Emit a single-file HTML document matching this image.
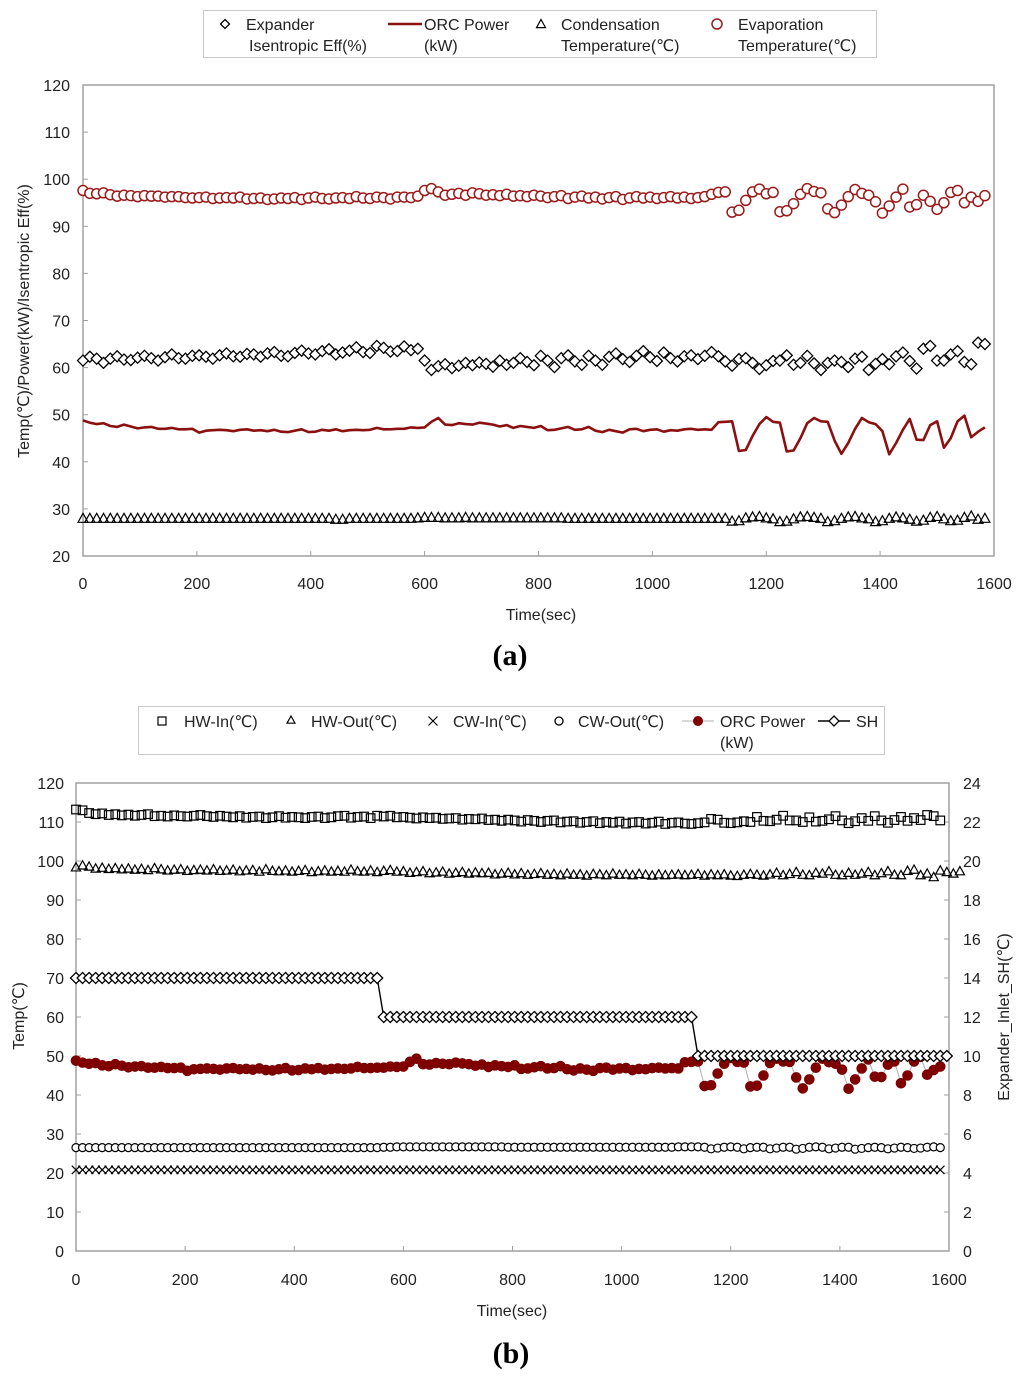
<!DOCTYPE html>
<html><head><meta charset="utf-8">
<style>
html,body{margin:0;padding:0;background:#fff;}
svg{display:block;font-family:"Liberation Sans","DejaVu Sans",sans-serif;}
</style></head>
<body>
<svg id="chart" width="1024" height="1380" viewBox="0 0 1024 1380" xmlns="http://www.w3.org/2000/svg"></svg>
<script>
// ---- shared data ----
const timeStepSec = 12;
const orcPower = [48.8,48.3,48.0,48.2,47.6,47.4,47.9,47.5,47.1,47.3,47.4,47.0,47.0,47.2,46.9,46.9,47.0,46.2,46.6,46.7,46.8,46.7,46.5,46.8,46.9,46.6,46.7,46.5,46.8,46.4,46.3,46.6,46.9,46.3,46.4,46.8,46.6,46.9,46.5,46.7,46.8,46.7,46.8,47.2,46.9,46.9,47.0,
47.0,47.3,47.2,47.3,48.5,49.3,47.9,47.8,48.2,48.0,47.9,48.3,48.1,47.9,47.5,47.8,47.2,47.6,47.4,47.2,47.6,46.7,46.8,47.1,47.4,46.8,46.9,47.4,46.6,46.3,46.8,46.5,46.2,46.9,47.0,46.5,46.8,46.9,46.4,46.7,46.6,46.9,47.0,46.8,46.9,46.8,48.4,
48.5,48.6,42.3,42.5,45.5,48.0,49.5,48.5,48.3,42.2,42.4,45.0,48.2,49.3,48.6,48.5,44.5,41.7,44.0,47.0,49.3,48.4,48.0,46.5,41.6,44.0,46.8,49.1,44.7,44.6,47.8,48.6,43.0,45.0,48.6,49.8,45.2,46.4,47.3];
// ---- chart (a) data ----
const evapTemp = [97.6,97.0,96.9,97.1,96.7,96.4,96.6,96.5,96.3,96.5,96.4,96.4,96.2,96.3,96.3,96.1,96.0,96.1,96.2,95.9,96.0,96.1,96.0,96.2,95.8,95.9,96.0,95.7,95.8,96.0,95.9,96.1,95.7,96.0,96.2,95.9,95.8,96.0,96.1,95.9,96.3,96.0,95.9,96.2,96.1,95.8,96.2,
96.2,96.1,96.4,97.6,98.0,97.3,96.6,96.8,97.0,96.6,97.1,96.9,96.6,96.7,96.5,96.8,96.4,96.5,96.3,96.6,96.4,96.1,96.3,96.5,95.9,96.2,96.4,96.0,96.2,95.8,96.1,96.3,95.7,96.0,96.3,96.0,96.2,95.9,96.1,96.3,96.0,96.2,95.9,96.1,96.3,96.8,97.2,
97.3,93.0,93.4,95.5,97.3,97.9,96.9,97.2,93.1,93.3,94.8,96.8,98.0,97.4,97.1,93.7,92.9,94.5,96.3,97.8,97.0,96.6,95.2,92.8,94.3,96.2,97.9,94.1,94.6,96.6,95.3,93.6,95.0,97.2,97.6,95.0,96.2,95.3,96.5];
const isenEff = [61.5,62.3,61.9,61.0,61.9,62.4,61.7,61.6,62.1,62.5,62.0,61.5,62.2,62.8,62.0,61.9,62.5,62.6,62.3,61.9,62.6,63.0,62.4,62.3,62.9,62.8,62.3,63.0,63.3,62.5,62.4,63.1,63.6,63.0,62.8,63.5,63.9,62.8,63.2,63.6,64.3,63.3,63.1,64.6,64.2,63.4,63.5,
64.5,63.7,64.0,61.5,59.5,60.3,60.7,59.9,60.4,61.0,60.5,61.1,60.8,60.2,61.5,60.6,61.0,62.0,61.2,60.5,62.5,61.5,60.1,62.0,62.6,61.3,60.6,62.5,61.5,60.6,62.3,63.0,61.8,61.2,62.5,63.5,62.2,61.4,63.2,62.0,61.3,62.4,62.6,61.8,62.5,63.3,62.4,
61.3,60.4,61.8,62.0,61.0,59.7,60.5,61.4,61.5,62.6,60.6,61.0,62.5,60.9,59.5,61.0,61.5,61.2,60.1,61.9,62.3,59.5,60.8,61.8,60.7,62.4,63.2,61.4,59.8,64.0,64.6,61.5,61.5,62.8,63.5,61.2,60.7,65.3,65.0];
const condTemp = [28.0,28.0,28.0,28.0,28.0,28.0,28.0,28.0,28.0,28.0,28.0,28.0,28.0,28.0,28.0,28.0,28.0,28.0,28.0,28.0,28.0,28.0,28.0,28.0,28.0,28.0,28.0,28.0,28.0,28.0,28.0,28.0,28.0,28.0,28.0,28.0,28.0,27.8,27.8,28.0,28.0,28.0,28.0,28.0,28.0,28.0,28.0,
28.0,28.0,28.1,28.2,28.2,28.2,28.1,28.1,28.1,28.2,28.1,28.1,28.1,28.1,28.1,28.1,28.1,28.1,28.1,28.1,28.1,28.1,28.1,28.1,28.0,28.0,28.0,28.0,28.0,28.0,28.0,28.0,28.0,28.0,28.0,28.0,28.0,28.0,28.0,28.0,28.0,28.0,28.0,28.0,28.0,28.0,28.0,
28.0,27.4,27.5,28.1,28.3,28.4,28.1,27.9,27.3,27.4,27.9,28.3,28.4,28.2,28.0,27.3,27.5,28.0,28.3,28.4,28.1,27.9,27.3,27.5,28.0,28.3,28.1,27.8,27.4,27.6,28.2,28.4,27.9,27.5,27.6,28.2,28.5,27.8,28.0];
// ---- chart (b) data ----
const hwIn = [113.2,113.0,112.3,112.0,112.2,111.8,112.0,111.7,111.9,111.6,111.8,112.0,111.5,111.6,111.4,111.7,111.5,111.4,111.6,111.8,111.5,111.3,111.6,111.4,111.2,111.5,111.1,111.3,111.4,111.0,111.2,111.5,111.1,111.3,111.2,111.0,111.3,111.4,111.0,111.2,111.5,111.6,111.1,111.3,111.4,111.0,111.6,
111.4,111.6,111.2,111.3,111.1,110.9,111.2,111.0,111.1,110.8,110.9,111.0,110.6,110.8,110.7,110.9,110.5,110.6,110.3,110.6,110.4,110.1,110.5,110.3,110.0,110.3,110.4,109.9,110.1,110.2,109.8,110.0,110.2,109.7,110.0,109.8,110.1,109.6,109.9,110.0,109.6,109.8,110.1,109.5,109.8,109.9,109.6,
109.5,109.7,109.9,110.8,110.6,109.8,109.7,109.9,110.2,110.0,111.3,110.3,110.2,110.6,111.6,110.4,110.4,110.0,111.2,110.1,110.3,110.7,111.5,110.4,109.7,110.2,111.0,110.3,111.5,110.4,109.8,110.5,111.3,110.3,111.0,110.5,111.8,111.5,110.4];
const hwOut = [98.4,98.9,98.6,98.1,98.3,98.0,98.2,97.9,98.1,97.8,98.0,97.7,98.2,97.9,97.6,97.8,97.9,97.5,97.7,97.8,97.6,97.9,97.5,97.6,97.8,97.4,97.6,97.7,97.3,97.9,97.5,97.4,97.6,97.3,97.5,97.7,97.2,97.4,97.6,97.3,97.5,97.3,97.8,97.4,97.3,97.6,97.2,
97.5,97.7,97.3,97.4,97.0,97.2,97.4,96.9,97.1,97.3,96.8,97.0,97.2,96.8,97.1,96.9,97.0,96.6,96.8,97.0,96.6,96.9,96.5,96.7,96.9,96.5,96.7,96.4,96.8,96.5,96.6,96.3,96.7,96.6,96.4,96.8,96.5,96.6,96.4,96.7,96.5,96.3,96.6,96.4,96.5,96.6,96.4,
96.5,96.7,96.3,96.6,96.4,96.6,96.3,96.2,96.5,96.7,96.5,96.3,96.6,97.0,96.4,96.7,97.2,96.5,96.4,97.0,96.8,97.4,96.5,96.4,97.0,96.5,96.8,97.2,96.4,96.9,97.4,96.5,96.4,97.5,97.8,96.4,96.8,95.9,97.6,97.2,96.8,97.4];
const cwIn = [20.8,20.8,20.8,20.8,20.8,20.8,20.8,20.8,20.8,20.8,20.8,20.8,20.8,20.8,20.8,20.8,20.8,20.8,20.8,20.8,20.8,20.8,20.8,20.8,20.8,20.8,20.8,20.8,20.8,20.8,20.8,20.8,20.8,20.8,20.8,20.8,20.8,20.8,20.8,20.8,20.8,20.8,20.8,20.8,20.8,20.8,20.8,
20.8,20.8,20.8,20.8,20.8,20.8,20.8,20.8,20.8,20.8,20.8,20.8,20.8,20.8,20.8,20.8,20.8,20.8,20.8,20.8,20.8,20.8,20.8,20.8,20.8,20.8,20.8,20.8,20.8,20.8,20.8,20.8,20.8,20.8,20.8,20.8,20.8,20.8,20.8,20.8,20.8,20.8,20.8,20.8,20.8,20.8,20.8,
20.8,20.8,20.8,20.8,20.8,20.8,20.8,20.8,20.8,20.8,20.8,20.8,20.8,20.8,20.8,20.8,20.8,20.8,20.8,20.8,20.8,20.8,20.8,20.8,20.8,20.8,20.8,20.8,20.8,20.8,20.8,20.8,20.8,20.8,20.8,20.8,20.8,20.8,20.8];
const cwOut = [26.5,26.5,26.5,26.5,26.5,26.5,26.5,26.5,26.5,26.5,26.5,26.5,26.5,26.5,26.5,26.5,26.5,26.5,26.5,26.5,26.5,26.5,26.5,26.5,26.5,26.5,26.5,26.5,26.5,26.5,26.5,26.5,26.5,26.5,26.5,26.5,26.5,26.5,26.5,26.5,26.5,26.5,26.5,26.5,26.5,26.5,26.5,
26.6,26.6,26.7,26.7,26.7,26.7,26.7,26.7,26.7,26.7,26.7,26.7,26.7,26.7,26.7,26.7,26.7,26.7,26.7,26.6,26.6,26.6,26.6,26.6,26.6,26.6,26.6,26.6,26.6,26.6,26.6,26.6,26.6,26.6,26.6,26.6,26.6,26.6,26.6,26.6,26.6,26.6,26.6,26.6,26.6,26.7,26.7,
26.7,26.7,26.6,26.2,26.4,26.6,26.7,26.6,26.2,26.5,26.6,26.6,26.2,26.4,26.6,26.6,26.1,26.3,26.6,26.7,26.6,26.2,26.4,26.6,26.6,26.1,26.3,26.5,26.6,26.5,26.2,26.4,26.6,26.5,26.3,26.4,26.6,26.7,26.5];
const superheat = [14,14,14,14,14,14,14,14,14,14,14,14,14,14,14,14,14,14,14,14,14,14,14,14,14,14,14,14,14,14,14,14,14,14,14,14,14,14,14,14,14,14,14,14,14,14,14,
12,12,12,12,12,12,12,12,12,12,12,12,12,12,12,12,12,12,12,12,12,12,12,12,12,12,12,12,12,12,12,12,12,12,12,12,12,12,12,12,12,12,12,12,12,12,12,12,
10,10,10,10,10,10,10,10,10,10,10,10,10,10,10,10,10,10,10,10,10,10,10,10,10,10,10,10,10,10,10,10,10,10,10,10,10,10,10];
const xTicks = [0,200,400,600,800,1000,1200,1400,1600];
const yTicksA = [20,30,40,50,60,70,80,90,100,110,120];
const yTicksB = [0,10,20,30,40,50,60,70,80,90,100,110,120];
const yTicksBRight = [0,2,4,6,8,10,12,14,16,18,20,22,24];

const NS = "http://www.w3.org/2000/svg";
const svg = document.getElementById('chart');
function mk(tag, attrs, parent){
  const e = document.createElementNS(NS, tag);
  for (const k in attrs) e.setAttribute(k, attrs[k]);
  (parent||svg).appendChild(e);
  return e;
}
function txt(s, attrs, parent){ const e = mk('text', attrs, parent); e.textContent = s; return e; }
function timeOf(i){ return i*timeStepSec; }

const A = {x0:83, x1:994, y0:556, y1:85, vmin:20, vmax:120};
const B = {x0:76, x1:949, y0:1251, y1:783, vmin:0, vmax:120};
function sx(P,t){ return P.x0 + (t/1600)*(P.x1-P.x0); }
function sy(P,v){ return P.y0 - (v-P.vmin)/(P.vmax-P.vmin)*(P.y0-P.y1); }
function syR(v){ return B.y0 - (v/24)*(B.y0-B.y1); }

function diamond(g,x,y,s,fill){ return mk('polygon',{points:`${x},${y-s} ${x+s},${y} ${x},${y+s} ${x-s},${y}`,fill:fill||'#fff',stroke:'#000','stroke-width':1.3},g); }
function triangle(g,x,y,s){ return mk('polygon',{points:`${x},${y-s} ${x+s},${y+s*0.8} ${x-s},${y+s*0.8}`,fill:'none',stroke:'#000','stroke-width':1.2},g); }
function square(g,x,y,s){ return mk('rect',{x:x-s,y:y-s,width:2*s,height:2*s,fill:'none',stroke:'#000','stroke-width':1.2},g); }
function cross(g,x,y,s){ return mk('path',{d:`M${x-s},${y-s}L${x+s},${y+s}M${x+s},${y-s}L${x-s},${y+s}`,stroke:'#000','stroke-width':1.2},g); }
function circle(g,x,y,r,stroke,fill,sw){ return mk('circle',{cx:x,cy:y,r:r,fill:fill||'none',stroke:stroke,'stroke-width':sw||1.3},g); }

// ================= Chart (a) =================
const ga = mk('g',{});


const frameA = mk('rect',{x:A.x0,y:A.y1,width:A.x1-A.x0,height:A.y0-A.y1,fill:'none',stroke:'#a0a0a0','stroke-width':1.5},ga);


yTicksA.forEach(v=>{
  const y=sy(A,v);
  mk('line',{x1:A.x0,x2:A.x0+5,y1:y,y2:y,stroke:'#a0a0a0'},ga);
  const t=txt(String(v),{x:70,y:y+6,'text-anchor':'end','font-size':16,fill:'#222'},ga);
  
  
});
xTicks.forEach(v=>{
  const x=sx(A,v);
  mk('line',{x1:x,x2:x,y1:A.y0,y2:A.y0-5,stroke:'#a0a0a0'},ga);
  const t=txt(String(v),{x:x,y:589,'text-anchor':'middle','font-size':16,fill:'#222'},ga);
  
  
});
const xtA=txt('Time(sec)',{x:541,y:620,'text-anchor':'middle','font-size':16,fill:'#222'},ga);


const ytA=txt('Temp(℃)/Power(kW)/Isentropic Eff(%)',{x:0,y:0,'text-anchor':'middle','font-size':16,fill:'#222',transform:'translate(29,321) rotate(-90)'},ga);


const capA=txt('(a)',{x:510,y:665,'text-anchor':'middle','font-size':30,'font-weight':'bold','font-family':'Liberation Serif, serif',fill:'#000'},ga);



const gEvap = mk('g',{},ga);


evapTemp.forEach((v,i)=>{ circle(gEvap,sx(A,timeOf(i)),sy(A,v),5,'#9b1b1b','#fff',1.5); });
const gEff = mk('g',{},ga);


isenEff.forEach((v,i)=>{ diamond(gEff,sx(A,timeOf(i)),sy(A,v),5.5); });
const pwA = mk('polyline',{points:orcPower.map((v,i)=>sx(A,timeOf(i)).toFixed(1)+','+sy(A,v).toFixed(1)).join(' '),fill:'none',stroke:'#8b1010','stroke-width':2.6,'stroke-linejoin':'round'},ga);


const gCond = mk('g',{},ga);


condTemp.forEach((v,i)=>{ triangle(gCond,sx(A,timeOf(i)),sy(A,v),5); });

const la = mk('g',{},ga);


mk('rect',{x:203.5,y:10.5,width:673,height:47,fill:'#fff',stroke:'#c8c8c8'},la);
diamond(la,225,24,4.5);
txt('Expander',{x:246,y:30,'font-size':16,fill:'#222'},la);
txt('Isentropic Eff(%)',{x:249,y:51,'font-size':16,fill:'#222'},la);
mk('line',{x1:388,x2:422,y1:24,y2:24,stroke:'#8b1010','stroke-width':2.6},la);
txt('ORC Power',{x:424,y:30,'font-size':16,fill:'#222'},la);
txt('(kW)',{x:424,y:51,'font-size':16,fill:'#222'},la);
triangle(la,541,24,4.5);
txt('Condensation',{x:561,y:30,'font-size':16,fill:'#222'},la);
txt('Temperature(℃)',{x:561,y:51,'font-size':16,fill:'#222'},la);
circle(la,717,24,5,'#9b1b1b','#fff',1.5);
txt('Evaporation',{x:738,y:30,'font-size':16,fill:'#222'},la);
txt('Temperature(℃)',{x:738,y:51,'font-size':16,fill:'#222'},la);

// ================= Chart (b) =================
const gb = mk('g',{});


const frameB = mk('rect',{x:B.x0,y:B.y1,width:B.x1-B.x0,height:B.y0-B.y1,fill:'none',stroke:'#a0a0a0','stroke-width':1.5},gb);


yTicksB.forEach(v=>{
  const y=sy(B,v);
  mk('line',{x1:B.x0,x2:B.x0+5,y1:y,y2:y,stroke:'#a0a0a0'},gb);
  const t=txt(String(v),{x:64,y:y+6,'text-anchor':'end','font-size':16,fill:'#222'},gb);
  
  
});
yTicksBRight.forEach(v=>{
  const y=syR(v);
  mk('line',{x1:B.x1,x2:B.x1-5,y1:y,y2:y,stroke:'#a0a0a0'},gb);
  const t=txt(String(v),{x:963,y:y+6,'text-anchor':'start','font-size':16,fill:'#222'},gb);
  
  
});
xTicks.forEach(v=>{
  const x=sx(B,v);
  mk('line',{x1:x,x2:x,y1:B.y0,y2:B.y0-5,stroke:'#a0a0a0'},gb);
  const t=txt(String(v),{x:x,y:1285,'text-anchor':'middle','font-size':16,fill:'#222'},gb);
  
  
});
const xtB=txt('Time(sec)',{x:512,y:1316,'text-anchor':'middle','font-size':16,fill:'#222'},gb);


const ytB=txt('Temp(℃)',{x:0,y:0,'text-anchor':'middle','font-size':16,fill:'#222',transform:'translate(24,1016) rotate(-90)'},gb);


const ytB2=txt('Expander_Inlet_SH(℃)',{x:0,y:0,'text-anchor':'middle','font-size':16,fill:'#222',transform:'translate(1009,1017) rotate(-90)'},gb);


const capB=txt('(b)',{x:511,y:1363,'text-anchor':'middle','font-size':30,'font-weight':'bold','font-family':'Liberation Serif, serif',fill:'#000'},gb);



const gHwIn = mk('g',{},gb);


hwIn.forEach((v,i)=>{ square(gHwIn,sx(B,timeOf(i)),sy(B,v),4.3); });
const gHwOut = mk('g',{},gb);


hwOut.forEach((v,i)=>{ triangle(gHwOut,sx(B,timeOf(i)),sy(B,v),4.6); });
const gCwIn = mk('g',{},gb);


cwIn.forEach((v,i)=>{ cross(gCwIn,sx(B,timeOf(i)),sy(B,v),4.2); });
const gCwOut = mk('g',{},gb);


cwOut.forEach((v,i)=>{ circle(gCwOut,sx(B,timeOf(i)),sy(B,v),4,'#000','#fff',1.2); });
const pwBLine = mk('polyline',{points:orcPower.map((v,i)=>sx(B,timeOf(i)).toFixed(1)+','+sy(B,v).toFixed(1)).join(' '),fill:'none',stroke:'#b0b0b0','stroke-width':1},gb);


const gPwB = mk('g',{},gb);


orcPower.forEach((v,i)=>{ circle(gPwB,sx(B,timeOf(i)),sy(B,v),4.8,'#7a0000','#800000',1); });
const shLine = mk('polyline',{points:superheat.map((v,i)=>sx(B,timeOf(i)).toFixed(1)+','+syR(v).toFixed(1)).join(' '),fill:'none',stroke:'#000','stroke-width':1.4},gb);


const gSh = mk('g',{},gb);


superheat.forEach((v,i)=>{ diamond(gSh,sx(B,timeOf(i)),syR(v),5.5); });

const lb = mk('g',{},gb);


mk('rect',{x:138.5,y:706.5,width:746,height:48,fill:'#fff',stroke:'#c8c8c8'},lb);
square(lb,162,721,4);
txt('HW-In(℃)',{x:184,y:727,'font-size':16,fill:'#222'},lb);
triangle(lb,291,720,4);
txt('HW-Out(℃)',{x:311,y:727,'font-size':16,fill:'#222'},lb);
cross(lb,433,721,4.5);
txt('CW-In(℃)',{x:453,y:727,'font-size':16,fill:'#222'},lb);
circle(lb,559,721,4,'#000','#fff',1.3);
txt('CW-Out(℃)',{x:578,y:727,'font-size':16,fill:'#222'},lb);
mk('line',{x1:682,x2:714,y1:721,y2:721,stroke:'#b0b0b0','stroke-width':1},lb);
circle(lb,698,721,4.5,'#7a0000','#800000',1);
txt('ORC Power',{x:720,y:727,'font-size':16,fill:'#222'},lb);
txt('(kW)',{x:720,y:748,'font-size':16,fill:'#222'},lb);
mk('line',{x1:818,x2:850,y1:721,y2:721,stroke:'#000','stroke-width':1.4},lb);
diamond(lb,834,721,5);
txt('SH',{x:856,y:727,'font-size':16,fill:'#222'},lb);
</script>
</body></html>
